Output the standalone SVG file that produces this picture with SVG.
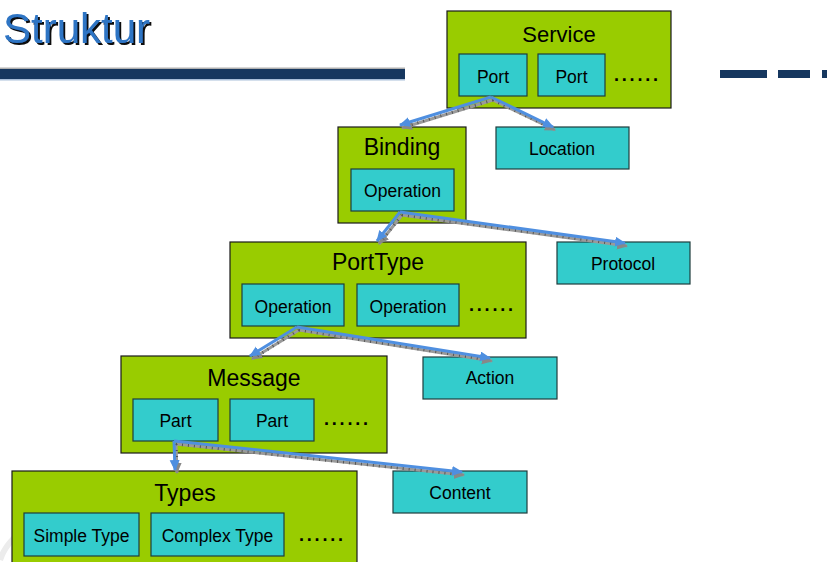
<svg xmlns="http://www.w3.org/2000/svg" width="827" height="562" viewBox="0 0 827 562">
<defs>
<style>
.outer{fill:#99cc00;stroke:#1a1a1a;stroke-width:1.2}
.inner{fill:#33cccc;stroke:#1e3d3d;stroke-width:1.2}
.t{font-family:"Liberation Sans",Arial,sans-serif;fill:#000;text-anchor:middle}
.big{font-size:23px}
.sm{font-size:17.5px}
.dots{font-family:"Liberation Sans",Arial,sans-serif;font-size:18px;font-weight:bold;letter-spacing:2.8px;fill:#000}
.ln{fill:none;stroke:#4f8fe0;stroke-width:3;marker-end:url(#ah)}
.sh{fill:none;stroke:#9a9a9a;stroke-width:3;marker-end:url(#sh)}
.shd{fill:none;stroke:#555;stroke-width:3;stroke-dasharray:1 5}
</style>
<filter id="ts" x="-5%" y="-20%" width="115%" height="150%">
<feOffset in="SourceAlpha" dx="2" dy="2" result="o"/>
<feFlood flood-color="#111"/>
<feComposite in2="o" operator="in" result="s"/>
<feMerge><feMergeNode in="s"/><feMergeNode in="SourceGraphic"/></feMerge>
</filter>
<marker id="ah" markerUnits="userSpaceOnUse" markerWidth="14" markerHeight="12" refX="10" refY="5" orient="auto">
<path d="M0,0 L11,5 L0,10 Z" fill="#4f8fe0"/>
</marker>
<marker id="sh" markerUnits="userSpaceOnUse" markerWidth="14" markerHeight="12" refX="10" refY="5" orient="auto">
<path d="M0,0 L11,5 L0,10 Z" fill="#888"/>
</marker>
</defs>
<rect width="827" height="562" fill="#fff"/>
<path d="M0,560 Q4,548 14,538" fill="none" stroke="#ececec" stroke-width="6"/>

<g id="title">
<text x="3" y="43" font-family="Liberation Sans,Arial,sans-serif" font-size="42" fill="#2f74c4" filter="url(#ts)">Struktur</text>
<rect x="0" y="67.5" width="405" height="1.5" fill="#b0b0b0"/>
<rect x="0" y="69" width="405" height="10" fill="#16375f"/>
<rect x="0" y="79" width="405" height="1.5" fill="#a9bfd9"/>
<rect x="720" y="70" width="47" height="8" fill="#16375f"/>
<rect x="778" y="70" width="32" height="8" fill="#16375f"/>
<rect x="822" y="70" width="5" height="8" fill="#16375f"/>
</g>

<g id="service">
<rect class="outer" x="447" y="11" width="224" height="97"/>
<text class="t" x="559" y="42" font-size="22">Service</text>
<rect class="inner" x="459" y="54" width="68" height="42"/>
<text class="t sm" x="493" y="83">Port</text>
<rect class="inner" x="538" y="54" width="67" height="42"/>
<text class="t sm" x="571.5" y="83">Port</text>
<text class="dots" x="614" y="81">......</text>
</g>

<g id="location">
<rect class="inner" x="496" y="127" width="133" height="42"/>
<text class="t sm" x="562" y="155">Location</text>
</g>

<g id="binding">
<rect class="outer" x="338" y="127" width="128" height="96"/>
<text class="t big" x="402" y="155">Binding</text>
<rect class="inner" x="351" y="169" width="103" height="42"/>
<text class="t sm" x="402.5" y="197">Operation</text>
</g>

<g id="protocol">
<rect class="inner" x="557" y="242" width="133" height="42"/>
<text class="t sm" x="623" y="270">Protocol</text>
</g>

<g id="porttype">
<rect class="outer" x="230" y="242" width="296" height="96"/>
<text class="t big" x="378" y="270">PortType</text>
<rect class="inner" x="242" y="284" width="102" height="42"/>
<text class="t sm" x="293" y="313">Operation</text>
<rect class="inner" x="357" y="284" width="102" height="42"/>
<text class="t sm" x="408" y="313">Operation</text>
<text class="dots" x="469" y="311">......</text>
</g>

<g id="action">
<rect class="inner" x="423" y="357" width="134" height="42"/>
<text class="t sm" x="490" y="384">Action</text>
</g>

<g id="message">
<rect class="outer" x="121" y="356" width="266" height="97"/>
<text class="t big" x="254" y="386">Message</text>
<rect class="inner" x="133" y="399" width="85" height="42"/>
<text class="t sm" x="175.5" y="427">Part</text>
<rect class="inner" x="230" y="399" width="84" height="42"/>
<text class="t sm" x="272" y="427">Part</text>
<text class="dots" x="324" y="425">......</text>
</g>

<g id="content">
<rect class="inner" x="393" y="471" width="134" height="42"/>
<text class="t sm" x="460" y="499">Content</text>
</g>

<g id="types">
<rect class="outer" x="12" y="471" width="345" height="100"/>
<text class="t big" x="185" y="501">Types</text>
<rect class="inner" x="24" y="513" width="115" height="43"/>
<text class="t sm" x="81.5" y="542">Simple Type</text>
<rect class="inner" x="151" y="513" width="133" height="43"/>
<text class="t sm" x="217.5" y="542">Complex Type</text>
<text class="dots" x="299" y="541">......</text>
</g>

<g id="connectors">
<g transform="translate(2,3)">
<path class="sh" d="M491,97 L400,125"/>
<path class="sh" d="M491,97 L553,127"/>
<path class="sh" d="M400,212 L377,241"/>
<path class="sh" d="M400,212 L625,243"/>
<path class="sh" d="M297,327 L250,356"/>
<path class="sh" d="M297,327 L490,358"/>
<path class="sh" d="M174,441 L175,470"/>
<path class="sh" d="M174,441 L462,472"/>
<path class="shd" d="M491,97 L405,123 M491,97 L545,123 M400,212 L381,236 M400,212 L615,241 M297,327 L255,353 M297,327 L480,356 M174,441 L175,464 M174,441 L452,471"/>
</g>
<path class="ln" d="M491,97 L400,125"/>
<path class="ln" d="M491,97 L553,127"/>
<path class="ln" d="M400,212 L377,241"/>
<path class="ln" d="M400,212 L625,243"/>
<path class="ln" d="M297,327 L250,356"/>
<path class="ln" d="M297,327 L490,358"/>
<path class="ln" d="M174,441 L175,470"/>
<path class="ln" d="M174,441 L462,472"/>
</g>
</svg>
